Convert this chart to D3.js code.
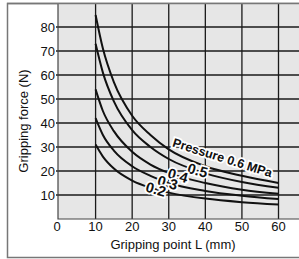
<!DOCTYPE html>
<html>
<head>
<meta charset="utf-8">
<script src="https://cdn.jsdelivr.net/npm/d3@7"></script>
<style>
  body { margin: 0; background: #fff; }
  svg { display: block; font-family: "Liberation Sans", Arial, sans-serif; }
</style>
</head>
<body>
<div id="chart"></div>
<script>
// gripping point L (mm)
const points = [10, 12, 15, 20, 25, 30, 40, 50, 60];
// gripping force (N) per pressure
const p06 = [85, 71, 57, 43, 35, 29, 22, 18, 15];
const p05 = [73, 61, 49, 37, 30, 25, 19, 15.4, 13];
const p04 = [54, 45, 36.6, 28, 22.7, 19.2, 15, 12.2, 10.5];
const p03 = [42, 35, 28.5, 22, 18, 15, 11.7, 9.7, 8.3];
const p02 = [31, 26, 21, 16, 13, 11, 8.5, 7, 6];
const seriesLabels = ["Pressure 0.6 MPa", "0.5", "0.4", "0.3", "0.2"];
const labelAt = [44.7, 37.9, 32.5, 29.7, 26.5];
const xTicks = [0, 10, 20, 30, 40, 50, 60];
const yTicks = [10, 20, 30, 40, 50, 60, 70, 80];

const width = 299, height = 259;
const series = [p06, p05, p04, p03, p02];

const svg = d3.select("#chart")
  .append("svg")
  .attr("width", width)
  .attr("height", height);

const x = d3.scaleLinear().domain([0, 60]).range([59, 278.5]);
const y = d3.scaleLinear().domain([0, 90]).range([219, 3]);

// outer frame
svg.append("rect")
  .attr("x", 7.5).attr("y", 3.5)
  .attr("width", 300).attr("height", 254)
  .attr("fill", "none")
  .attr("stroke", "#777")
  .attr("stroke-width", 1.5);

// plot background
svg.append("rect")
  .attr("x", 58).attr("y", 3)
  .attr("width", width - 58).attr("height", 216)
  .attr("fill", "#e6e6e6");

// grid
svg.append("g")
  .selectAll("line")
  .data(xTicks.slice(1))
  .join("line")
  .attr("x1", d => x(d)).attr("x2", d => x(d))
  .attr("y1", 3).attr("y2", 219)
  .attr("stroke", "#1a1a1a").attr("stroke-width", 1.3);

svg.append("g")
  .selectAll("line")
  .data(yTicks)
  .join("line")
  .attr("x1", 56).attr("x2", width)
  .attr("y1", d => y(d)).attr("y2", d => y(d))
  .attr("stroke", "#1a1a1a").attr("stroke-width", 1.3);

// plot border left / bottom / top
svg.append("path")
  .attr("d", `M58,3V219H${width}`)
  .attr("fill", "none")
  .attr("stroke", "#444").attr("stroke-width", 1.2);
svg.append("line")
  .attr("x1", 7).attr("x2", width)
  .attr("y1", 3.5).attr("y2", 3.5)
  .attr("stroke", "#777").attr("stroke-width", 1.5);

// tick labels
svg.append("g")
  .selectAll("text")
  .data(xTicks)
  .join("text")
  .attr("x", d => x(d) - (d === 0 ? 2 : 0))
  .attr("y", 231)
  .attr("text-anchor", "middle")
  .attr("font-size", 13)
  .attr("fill", "#111")
  .text(d => d);

svg.append("g")
  .selectAll("text")
  .data(yTicks)
  .join("text")
  .attr("x", 55)
  .attr("y", d => y(d) + 4.5)
  .attr("text-anchor", "end")
  .attr("font-size", 13)
  .attr("fill", "#111")
  .text(d => d);

// axis titles
svg.append("text")
  .attr("x", 173).attr("y", 249)
  .attr("text-anchor", "middle")
  .attr("font-size", 13)
  .attr("fill", "#111")
  .text("Gripping point L (mm)");

svg.append("text")
  .attr("transform", "translate(28,121) rotate(-90)")
  .attr("text-anchor", "middle")
  .attr("font-size", 13)
  .attr("fill", "#111")
  .text("Gripping force (N)");

// curves
const line = d3.line()
  .x(d => x(d[0]))
  .y(d => y(d[1]))
  .curve(d3.curveMonotoneX);

svg.append("g")
  .selectAll("path")
  .data(series)
  .join("path")
  .attr("d", s => line(points.map((p, i) => [p, s[i]])))
  .attr("fill", "none")
  .attr("stroke", "#111")
  .attr("stroke-width", 2);

// curve labels
function valueAt(s, L) {
  const i = d3.bisectLeft(points, L);
  const t = (L - points[i - 1]) / (points[i] - points[i - 1]);
  return s[i - 1] + t * (s[i] - s[i - 1]);
}

svg.append("g")
  .selectAll("text")
  .data(seriesLabels)
  .join("text")
  .attr("transform", (d, i) => {
    const px = x(labelAt[i]);
    const py = y(valueAt(series[i], labelAt[i])) + (i === 0 ? -13 : 0);
    return `translate(${px},${py}) rotate(${i === 0 ? 17.5 : 16})`;
  })
  .attr("text-anchor", "middle")
  .attr("dy", "0.35em")
  .attr("font-weight", "bold")
  .attr("font-size", (d, i) => i === 0 ? 12.5 : 14.5)
  .attr("fill", "#111")
  .attr("stroke", "#fff")
  .attr("stroke-width", 3.5)
  .attr("paint-order", "stroke")
  .text(d => d);
</script>
</body>
</html>
